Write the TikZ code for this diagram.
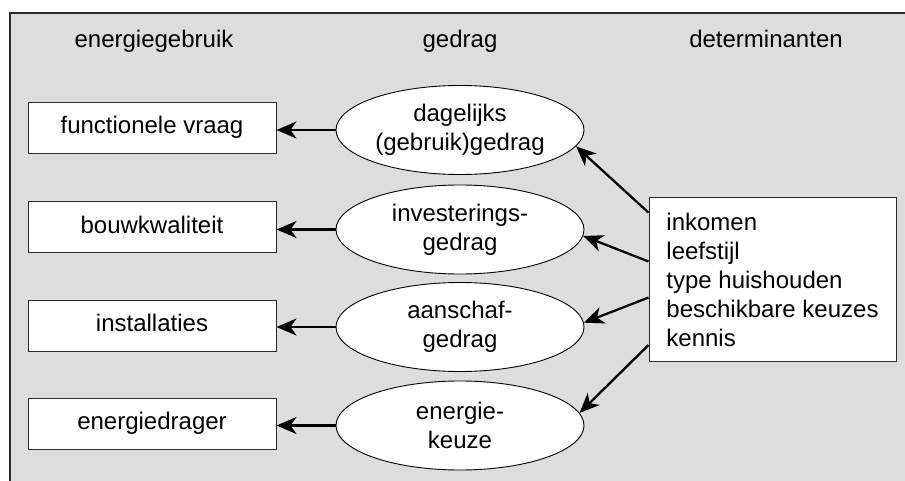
\documentclass[tikz,border=0pt]{standalone}
\usepackage{fontspec}
\setmainfont{Liberation Sans}
\usetikzlibrary{arrows.meta,shapes.geometric,calc}
\definecolor{bggray}{HTML}{DDDDDD}
\definecolor{edge}{HTML}{2A2A2A}
\begin{document}
\begin{tikzpicture}[x=1pt,y=-1pt,
  every node/.style={font=\fontsize{24}{29}\selectfont},
  hdr/.style={text height=17pt,text depth=5pt,inner sep=0pt},
  ubox/.style={draw=edge,line width=1pt,fill=white,minimum width=248pt,minimum height=51pt,inner sep=0pt,text height=17pt,text depth=5pt},
  gell/.style={ellipse,draw=black,line width=0.9pt,fill=white,minimum width=248pt,minimum height=89pt,inner sep=0pt,align=center},
  arr/.style={line width=2.3pt,-{Stealth[length=20pt,width=17pt,inset=6pt]}}
]
\useasboundingbox (0,0) rectangle (905,481);
\fill[bggray] (10,13) rectangle (910,490);
\draw[edge,line width=1.2pt] (10,490) -- (10,13) -- (910,13);

\node[hdr] (h1) at (154,42) {energiegebruik};
\node[hdr] (h2) at (460,42) {gedrag};
\node[hdr] (h3) at (766,42) {determinanten};

\node[ubox] (b1) at (152,128) {functionele vraag};
\node[ubox] (b2) at (152,227.5) {bouwkwaliteit};
\node[ubox] (b3) at (152,325.5) {installaties};
\node[ubox] (b4) at (152,423.5) {energiedrager};

\node[gell] (e1) at (460,130) {dagelijks\\(gebruik)gedrag};
\node[gell] (e2) at (460,229.5) {investerings-\\gedrag};
\node[gell] (e3) at (460,327) {aanschaf-\\gedrag};
\node[gell] (e4) at (460,425.5) {energie-\\keuze};

\node[draw=edge,line width=1pt,fill=white,minimum width=247pt,minimum height=163pt,
      inner sep=0pt,align=left] (det) at (772.5,279.5)
  {inkomen\\leefstijl\\type huishouden\\beschikbare keuzes\\kennis};

\draw[arr] (e1.west) -- (e1.west -| b1.east);
\draw[arr] (e2.west) -- (e2.west -| b2.east);
\draw[arr] (e3.west) -- (e3.west -| b3.east);
\draw[arr] (e4.west) -- (e4.west -| b4.east);

\coordinate (s1) at ($(det.north west)!0.092!(det.south west)$);
\coordinate (s2) at ($(det.north west)!0.39!(det.south west)$);
\coordinate (s3) at ($(det.north west)!0.61!(det.south west)$);
\coordinate (s4) at ($(det.north west)!0.90!(det.south west)$);
\draw[arr] (s1) -- (e1.-8);
\draw[arr] (s2) -- (e2.-3);
\draw[arr] (s3) -- (e3.2);
\draw[arr] (s4) -- (e4.6);
\end{tikzpicture}
\end{document}
